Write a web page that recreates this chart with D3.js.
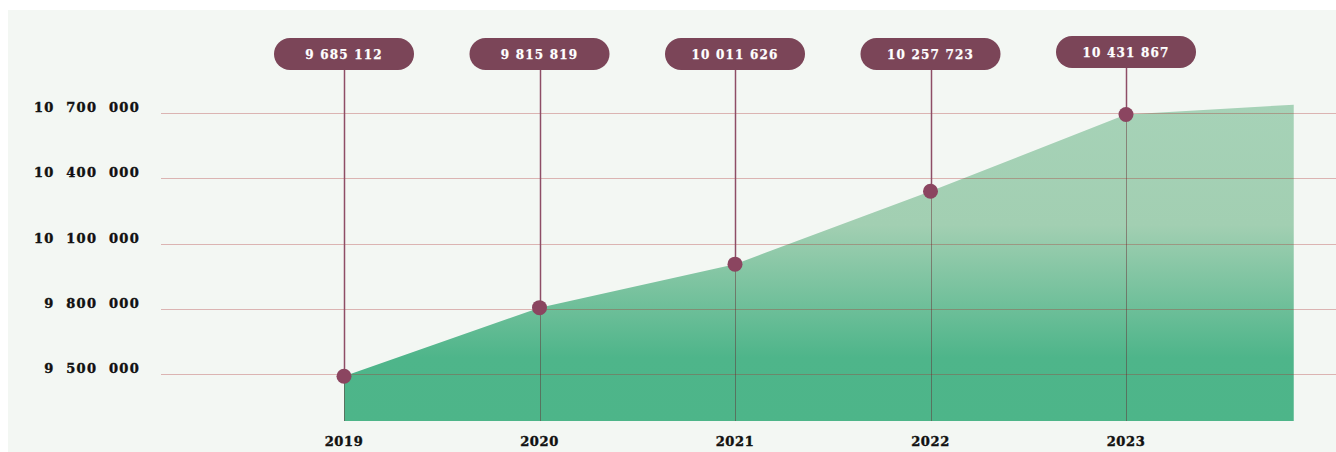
<!DOCTYPE html>
<html>
<head>
<meta charset="utf-8">
<script src="https://cdn.jsdelivr.net/npm/d3@7/dist/d3.min.js"></script>
<style>
  html, body { margin: 0; padding: 0; background: #ffffff; }
  svg { display: block; }
  text { font-family: "DejaVu Serif", serif; font-weight: bold; }
</style>
</head>
<body>
<svg id="chart" width="1336" height="452"></svg>
<script>
// ---- data ----
const years = [2019, 2020, 2021, 2022, 2023];
const plotted = [9490000, 9805000, 10005000, 10340000, 10693000];
const labels = ["9 685 112", "9 815 819", "10 011 626", "10 257 723", "10 431 867"];
const areaEndX = 2023.858;
const areaEndValue = 10738000;
const yTicks = [9500000, 9800000, 10100000, 10400000, 10700000];
const yTickLabels = ["9  500  000", "9  800  000", "10  100  000", "10  400  000", "10  700  000"];

const svg = d3.select("#chart");
const W = 1336, H = 452;

// panel background
svg.append("rect").attr("x", 8).attr("y", 10).attr("width", W - 8).attr("height", H - 10)
  .attr("fill", "#f3f7f3");

const x = d3.scaleLinear().domain([2019, 2023]).range([344, 1126]);
const y = d3.scaleLinear().domain([9284000, 10700000]).range([421, 113]);

// gradient
const defs = svg.append("defs");
const grad = defs.append("linearGradient").attr("id", "g")
  .attr("gradientUnits", "userSpaceOnUse")
  .attr("x1", 0).attr("x2", 0).attr("y1", y(areaEndValue)).attr("y2", y.range()[0]);
[[0, "#a6d2b7"], [0.38, "#a2cfb2"], [0.8, "#4eb58a"], [1, "#4db589"]].forEach(([o, c]) =>
  grad.append("stop").attr("offset", o).attr("stop-color", c));

const areaData = years.map((yr, i) => ({ x: yr, v: plotted[i] }));
areaData.push({ x: areaEndX, v: areaEndValue });

const area = d3.area().x(d => x(d.x)).y0(y.range()[0]).y1(d => y(d.v));
svg.append("path").datum(areaData).attr("d", area).attr("fill", "url(#g)");

// horizontal grid
svg.append("g").selectAll("line").data(yTicks).join("line")
  .attr("x1", 161).attr("x2", W)
  .attr("y1", d => Math.round(y(d)) + 0.5).attr("y2", d => Math.round(y(d)) + 0.5)
  .attr("stroke", "rgba(170,45,45,0.33)").attr("stroke-width", 1);

// y tick labels
svg.append("g").selectAll("text").data(yTicks).join("text")
  .attr("x", 140).attr("y", d => y(d) - 1)
  .attr("text-anchor", "end")
  .attr("font-size", 13).attr("letter-spacing", "1.3px")
  .style("white-space", "pre")
  .attr("fill", "#111").attr("stroke", "#111").attr("stroke-width", 0.4)
  .text((d, i) => yTickLabels[i]);

// vertical lines below points
svg.append("g").selectAll("line").data(areaData.slice(0, 5)).join("line")
  .attr("x1", d => Math.round(x(d.x)) + 0.5).attr("x2", d => Math.round(x(d.x)) + 0.5)
  .attr("y1", d => y(d.v)).attr("y2", y.range()[0])
  .attr("stroke", "rgba(100,35,45,0.45)").attr("stroke-width", 1);

// pill labels
const pillY = [54, 54, 54, 54, 52];
const pins = svg.append("g");
pins.selectAll("line").data(areaData.slice(0, 5)).join("line")
  .attr("x1", d => Math.round(x(d.x)) + 0.5).attr("x2", d => Math.round(x(d.x)) + 0.5)
  .attr("y1", (d, i) => pillY[i]).attr("y2", d => y(d.v))
  .attr("stroke", "#8e4d66").attr("stroke-width", 1.5);

const pill = svg.append("g").selectAll("g").data(areaData.slice(0, 5)).join("g")
  .attr("transform", (d, i) => `translate(${x(d.x)},${pillY[i]})`);
pill.append("rect").attr("x", -70).attr("y", -16).attr("width", 140).attr("height", 32)
  .attr("rx", 16).attr("fill", "#7b4558");
pill.append("text").attr("y", 4.5).attr("text-anchor", "middle")
  .attr("font-size", 12).attr("letter-spacing", "1.2px").attr("fill", "#ffffff")
  .attr("stroke", "#ffffff").attr("stroke-width", 0.25)
  .text((d, i) => labels[i]);

// points
svg.append("g").selectAll("circle").data(areaData.slice(0, 5)).join("circle")
  .attr("cx", d => x(d.x)).attr("cy", d => y(d.v)).attr("r", 7.5)
  .attr("fill", "#8b4560");

// x labels
svg.append("g").selectAll("text").data(years).join("text")
  .attr("x", d => x(d)).attr("y", 446).attr("text-anchor", "middle")
  .attr("font-size", 13).attr("letter-spacing", "0.6px")
  .attr("fill", "#111").attr("stroke", "#111").attr("stroke-width", 0.4)
  .text(d => d);
</script>
</body>
</html>
